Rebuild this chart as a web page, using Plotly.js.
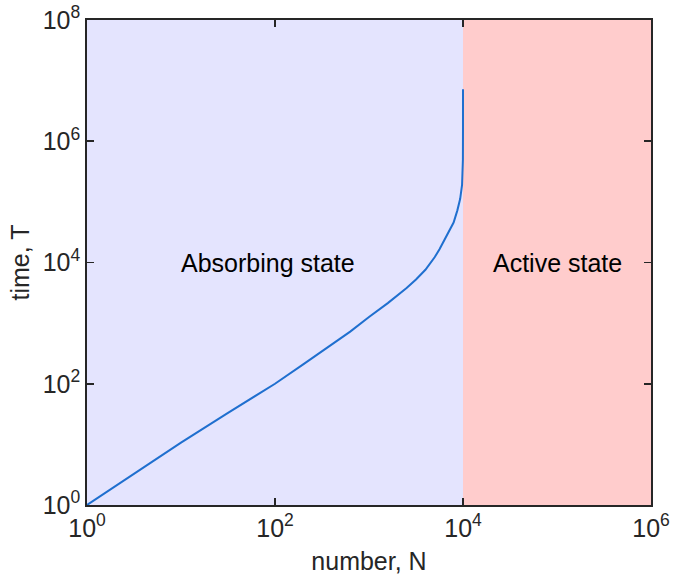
<!DOCTYPE html>
<html>
<head>
<meta charset="utf-8">
<script src="https://cdn.plot.ly/plotly-3.0.1.min.js"></script>
<style>html,body{margin:0;padding:0;background:#fff;}#chart{width:675px;height:585px;}</style>
</head>
<body>
<div id="chart"></div>
<script>
// Curve: number N vs time T
const numberN = [1, 3.162, 10, 31.62, 100, 199.5, 398.1, 631, 1000, 1585, 2512, 3162, 3981, 5012, 5623, 6310, 7079, 7943, 8710, 9333, 9772, 9931, 9977, 9998, 9999];
const timeT   = [1, 3.31, 10.7, 33.1, 100, 209, 447, 724, 1259, 2138, 3802, 5248, 7586, 12300, 16600, 22910, 31620, 45710, 72440, 112200, 190500, 316200, 501200, 1.585e6, 7.24e6];

// Region boundaries along N, and T extent
const regionN = [1, 1e4, 1e6];
const regionT = [1, 1e8];
const regionLabels = ["Absorbing state", "Active state"];
const labelN = [85, 1e5];
const labelT = [1e4, 1e4];

// Tick positions and labels
const xTickVals = [1, 1e2, 1e4, 1e6];
const xTickText = ["10<sup>0</sup>", "10<sup>2</sup>", "10<sup>4</sup>", "10<sup>6</sup>"];
const yTickVals = [1, 1e2, 1e4, 1e6, 1e8];
const yTickText = ["10<sup>0</sup>", "10<sup>2</sup>", "10<sup>4</sup>", "10<sup>6</sup>", "10<sup>8</sup>"];

const fontFam = "Liberation Sans, Arial, Helvetica, sans-serif";
const regionColors = ["#e4e4fe", "#ffcccc"];

const traces = [];
for (let i = 0; i < 2; i++) {
  const a = regionN[i], b = regionN[i + 1];
  traces.push({
    x: [a, b, b, a, a],
    y: [regionT[0], regionT[0], regionT[1], regionT[1], regionT[0]],
    type: "scatter", mode: "lines", fill: "toself",
    fillcolor: regionColors[i], line: {width: 0}, hoverinfo: "skip", showlegend: false
  });
}
traces.push({
  x: numberN, y: timeT, type: "scatter", mode: "lines",
  line: {color: "#1f6fcf", width: 2}, showlegend: false
});

const axisCommon = {
  type: "log", showgrid: false, zeroline: false,
  showline: true, linecolor: "#262626", linewidth: 1.8, mirror: "ticks",
  ticks: "inside", ticklen: 7, tickwidth: 1.8, tickcolor: "#262626",
  tickfont: {family: fontFam, size: 25, color: "#262626"}
};

const layout = {
  width: 675, height: 585,
  margin: {l: 87, r: 24, t: 20, b: 80},
  paper_bgcolor: "#ffffff", plot_bgcolor: "rgba(0,0,0,0)",
  xaxis: Object.assign({}, axisCommon, {
    range: [Math.log10(regionN[0]), Math.log10(regionN[2])],
    tickmode: "array", tickvals: xTickVals, ticktext: xTickText,
    title: {text: "number, N", font: {family: fontFam, size: 25, color: "#262626"}, standoff: 12}
  }),
  yaxis: Object.assign({}, axisCommon, {
    range: [Math.log10(regionT[0]), Math.log10(regionT[1])],
    tickmode: "array", tickvals: yTickVals, ticktext: yTickText,
    title: {text: "time, T", font: {family: fontFam, size: 25, color: "#262626"}, standoff: 6}
  }),
  annotations: regionLabels.map((t, i) => ({
    text: t, x: Math.log10(labelN[i]), y: Math.log10(labelT[i]),
    xref: "x", yref: "y", showarrow: false,
    font: {family: fontFam, size: 25, color: "#000000"}
  }))
};

Plotly.newPlot("chart", traces, layout, {staticPlot: true, displayModeBar: false});
</script>
</body>
</html>
